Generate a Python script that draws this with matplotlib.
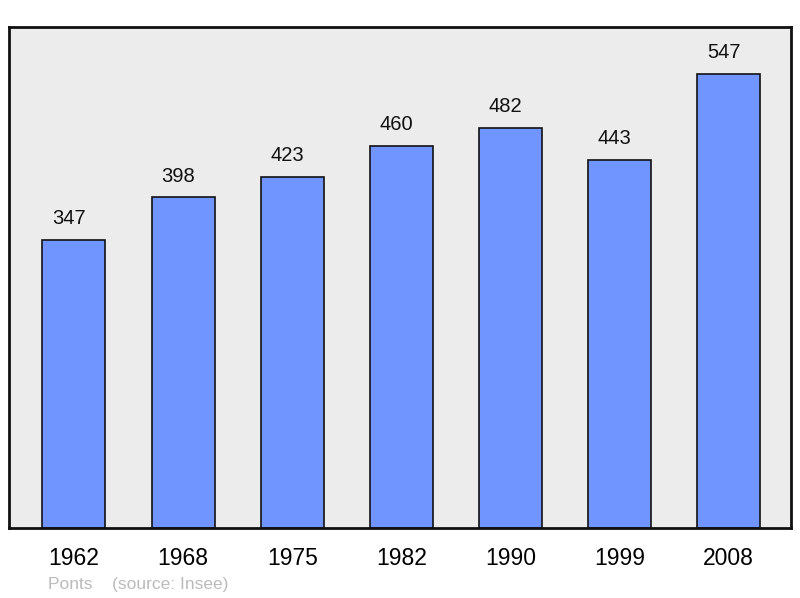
import matplotlib
matplotlib.use("Agg")
import matplotlib.pyplot as plt

years = ["1962", "1968", "1975", "1982", "1990", "1999", "2008"]
population = [347, 398, 423, 460, 482, 443, 547]

plt.rcParams['font.family'] = ['Liberation Sans', 'DejaVu Sans']

fig = plt.figure(figsize=(8, 5.98), dpi=100)
ax = fig.add_axes([9/800, 1-528/598, 782/800, 501/598])
ax.set_facecolor('#ececec')

x = list(range(len(years)))
ax.bar(x, population, width=0.577, color='#7095ff', edgecolor='#111111', linewidth=1.2, zorder=2)
for xi, v in zip(x, population):
    ax.annotate(str(v), (xi, v), xytext=(-3.6, 15.2), textcoords='offset points',
                ha='center', va='center', fontsize=14.5, color='#111111')

ax.set_xlim(-0.595, 6.57)
ax.set_ylim(0, 603)
ax.set_yticks([])
ax.set_xticks(x)
ax.set_xticklabels(years, fontsize=16.5)
ax.tick_params(axis='x', length=0, pad=14)
for s in ax.spines.values():
    s.set_linewidth(2)
    s.set_color('#111111')

fig.text(48/800, 1-584/598, "Ponts    (source: Insee)", fontsize=12.5, color='#bbbbbb',
         ha='left', va='center')

fig.savefig("out.png", dpi=100)
